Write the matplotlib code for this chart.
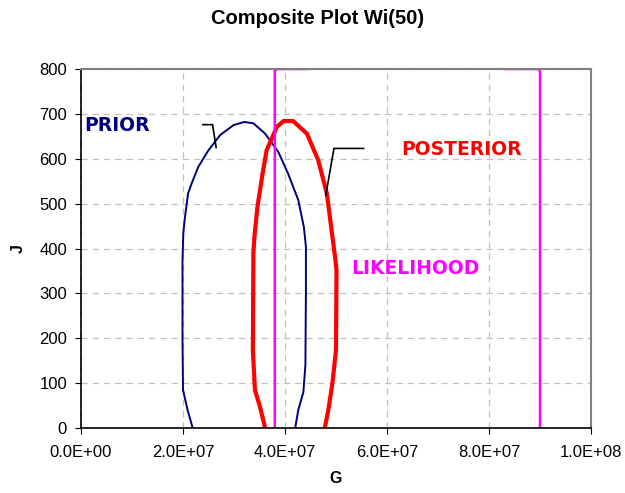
import matplotlib
matplotlib.use("Agg")
import matplotlib.pyplot as plt
from matplotlib.ticker import FuncFormatter

plt.rcParams["font.family"] = ["Liberation Sans", "DejaVu Sans"]

# prior contour (G, J)
prior_g = [21.9e6, 20.9e6, 20.0e6, 19.9e6, 19.9e6, 20.06e6, 20.4e6, 21.0e6, 21.7e6,
           23.0e6, 25.0e6, 27.3e6, 29.9e6, 32.0e6, 33.8e6, 36.1e6, 38.7e6, 40.6e6,
           42.6e6, 43.7e6, 44.1e6, 44.1e6, 44.0e6, 43.6e6, 42.6e6, 42.0e6]
prior_j = [0, 40, 85, 200, 374, 434, 471, 523, 545,
           582, 619, 653, 675, 682, 679, 656, 615, 567,
           508, 448, 404, 300, 140, 80, 40, 0]

# posterior contour
post_g = [36.1e6, 35.1e6, 34.1e6, 33.7e6, 33.8e6, 34.0e6, 34.6e6, 35.6e6, 36.4e6,
          38.4e6, 39.7e6, 41.6e6, 44.3e6, 46.5e6, 48.2e6, 49.8e6, 50.1e6, 50.0e6,
          49.3e6, 48.5e6, 47.8e6]
post_j = [0, 47, 85, 174, 389, 426, 493, 567, 619,
          671, 684, 684, 656, 597, 523, 382, 352, 174,
          100, 40, 0]

# likelihood contour, runs off the top of the axes
like_g1 = [38.0e6, 38.0e6, 38.3e6, 44.5e6, 45.5e6]
like_j1 = [0, 795, 800, 800, 900]
like_g2 = [82.0e6, 83.0e6, 89.7e6, 90.0e6, 90.0e6]
like_j2 = [900, 800, 800, 795, 0]

# leader lines for the labels
prior_lead_g = [23.9e6, 25.8e6, 26.5e6]
prior_lead_j = [676, 676, 625]
post_lead_g = [55.4e6, 49.6e6, 48.0e6]
post_lead_j = [623, 623, 519]

fig = plt.figure(figsize=(6.25, 4.93), dpi=100)
ax = fig.add_axes([81 / 625, 1 - 428 / 493, 510 / 625, 359 / 493])

ax.plot(prior_g, prior_j, color="#000080", lw=1.4)
ax.plot(post_g, post_j, color="#ff0000", lw=3.0)
ax.plot(like_g1, like_j1, color="#ff00ff", lw=1.8)
ax.plot(like_g2, like_j2, color="#ff00ff", lw=1.8)
ax.plot(prior_lead_g, prior_lead_j, color="black", lw=1.2)
ax.plot(post_lead_g, post_lead_j, color="black", lw=1.2)

lab = dict(fontsize=13.5, fontweight="bold", va="center", family="DejaVu Sans")
ax.text(0.6e6, 673, "PRIOR", color="#000080", **lab)
ax.text(62.7e6, 621, "POSTERIOR", color="#ff0000", **lab)
ax.text(52.9e6, 356, "LIKELIHOOD", color="#ff00ff", **lab)

ax.set_xlim(0, 1e8)
ax.set_ylim(0, 800)
ax.set_xticks([0, 2e7, 4e7, 6e7, 8e7, 1e8])
ax.set_yticks(range(0, 801, 100))
ax.xaxis.set_major_formatter(FuncFormatter(lambda v, p: f"{v:.1E}"))
ax.tick_params(labelsize=12, direction="out", length=4)
ax.tick_params(axis="x", pad=8)
ax.tick_params(axis="y", pad=6)
ax.grid(True, color="#c0c0c0", linestyle=(0, (5, 4)), lw=0.9)
ax.set_axisbelow(True)
for side in ("top", "right"):
    ax.spines[side].set_color("#808080")
    ax.spines[side].set_linewidth(1.5)
for side in ("left", "bottom"):
    ax.spines[side].set_color("black")
    ax.spines[side].set_linewidth(1.2)

ax.set_xlabel("G", fontsize=11.5, fontweight="bold", labelpad=8)
ax.set_ylabel("J", fontsize=11.5, fontweight="bold", labelpad=10)
fig.suptitle("Composite Plot Wi(50)", x=318 / 625, y=1 - 18 / 493, va="center",
             fontsize=14.5, fontweight="bold")

fig.savefig("out.png", dpi=100)
